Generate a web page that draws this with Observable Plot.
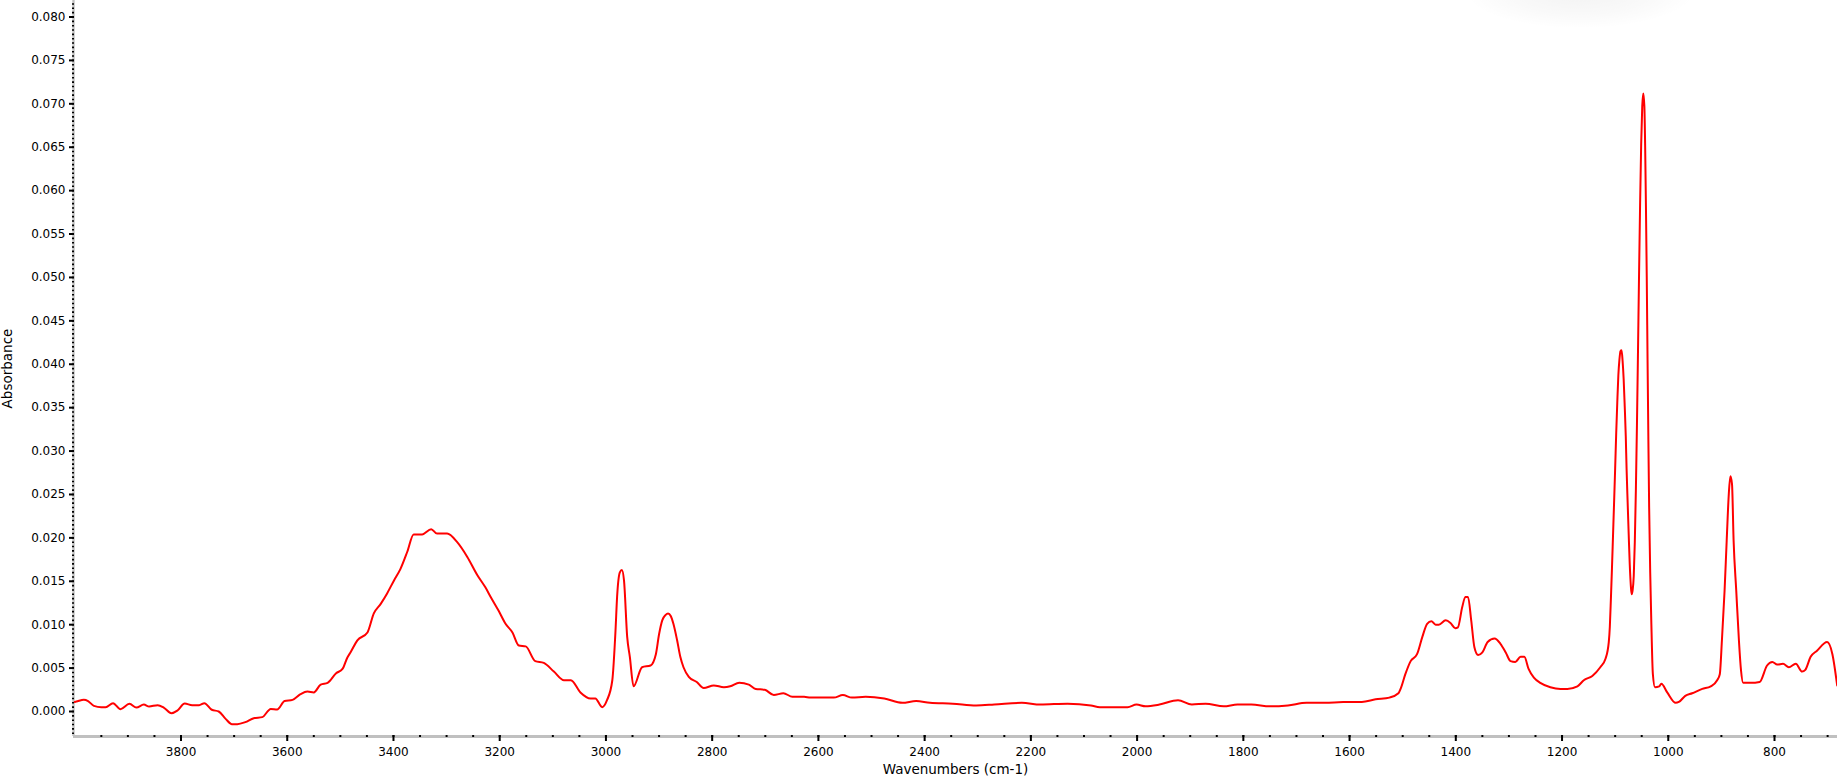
<!DOCTYPE html>
<html>
<head>
<meta charset="utf-8">
<script src="https://cdn.jsdelivr.net/npm/d3@7"></script>
<script src="https://cdn.jsdelivr.net/npm/@observablehq/plot@0.6"></script>
<style>
html, body { margin: 0; padding: 0; background: #fff; overflow: hidden; }
#chart { position: relative; width: 1837px; height: 776px; }
#chart svg { display: block; }
#shadow { position: absolute; left: 1465px; top: -48px; width: 230px; height: 76px; border-radius: 50%;
  background: radial-gradient(ellipse at center, rgba(0,0,0,0.05) 0%, rgba(0,0,0,0.025) 45%, rgba(0,0,0,0) 72%);
  pointer-events: none; }
</style>
</head>
<body>
<div id="chart"><div id="shadow"></div></div>
<script>
// Spectrum: wavenumber (cm-1) and absorbance
const wavenumber = [
  4000, 3995, 3983, 3975, 3964, 3950, 3942, 3928, 3914, 3897, 3884, 3870, 3860, 3844, 3832, 3818, 3807,
  3793, 3779, 3766, 3756, 3742, 3729, 3716, 3704, 3694, 3679, 3663, 3647, 3631, 3619, 3605, 3590, 3575,
  3562, 3550, 3537, 3524, 3508, 3496, 3487, 3481, 3468, 3449, 3437, 3424, 3412, 3399, 3387, 3374, 3362,
  3346, 3329, 3318, 3299, 3280, 3261, 3242, 3227, 3217, 3202, 3189, 3176, 3164, 3151, 3133, 3117, 3098,
  3079, 3066, 3048, 3029, 3020, 3007, 2998, 2988, 2982, 2979, 2974, 2970, 2966, 2960, 2955, 2948, 2932, 2916,
  2906, 2900, 2894, 2888, 2883, 2878, 2873, 2866, 2860, 2854, 2844, 2829, 2816, 2797, 2778, 2766, 2749, 2731, 2718, 2701, 2684, 2666,
  2649, 2627, 2615, 2589, 2571, 2554, 2537, 2511, 2476, 2442, 2416, 2390, 2347, 2303, 2269, 2217, 2182,
  2131, 2087, 2070, 2018, 2001, 1984, 1958, 1923, 1897, 1871, 1837, 1811, 1785, 1750, 1716, 1681, 1646,
  1612, 1577, 1551, 1525, 1508, 1504, 1495, 1485, 1473, 1463, 1454, 1446, 1438, 1432, 1419, 1410, 1401,
  1396, 1388, 1382, 1377, 1371, 1365, 1358, 1350, 1340, 1327, 1316, 1306, 1297, 1288, 1278, 1271, 1263,
  1253, 1241, 1222, 1203, 1190, 1171, 1159, 1143, 1128, 1118, 1112, 1110, 1108, 1106, 1104, 1102, 1100,
  1098, 1096, 1094, 1092, 1090, 1088, 1086, 1084, 1082, 1080, 1078.5, 1076.5, 1074.5, 1072.5, 1070.5,
  1069, 1067, 1065, 1063, 1061, 1059, 1057, 1055, 1053, 1051, 1049, 1047, 1045, 1043.5, 1042, 1040.5,
  1039, 1037.5, 1036, 1034, 1032, 1029, 1025, 1017, 1013, 1002, 986, 980, 968, 955, 936, 920, 908, 903,
  899, 894, 890, 886, 883, 880, 877, 872, 867, 863, 859, 845, 828, 814, 804, 795, 784, 773, 760, 748,
  742, 732, 720, 701, 691, 682
];
const absorbance = [
  0.0011, 0.00118, 0.00134, 0.0012, 0.00065, 0.0005, 0.0005, 0.00096, 0.00027, 0.00088, 0.00046, 0.0008, 0.00058, 0.00073, 0.00042, -0.0002, 0.0001,
  0.00092, 0.00073, 0.00073, 0.00096, 0.0002, 0.0, -0.00085, -0.00146, -0.00146, -0.00123, -0.00077, -0.00065, 0.0003, 0.00023, 0.0012, 0.00134, 0.0020,
  0.0023, 0.0022, 0.0031, 0.0033, 0.0044, 0.0049, 0.0062, 0.0068, 0.0082, 0.0091, 0.0113, 0.0124, 0.0136, 0.0151, 0.0164, 0.0184, 0.0204,
  0.0204, 0.0210, 0.0205, 0.0205, 0.0195, 0.0178, 0.0157, 0.0143, 0.0132, 0.0116, 0.0101, 0.0091, 0.0076, 0.0075, 0.0058, 0.0056, 0.0046,
  0.0036, 0.0036, 0.0022, 0.0015, 0.0015, 0.0005, 0.0013, 0.0036, 0.0093, 0.0132, 0.0160, 0.0163, 0.0151, 0.0086, 0.0063, 0.0029, 0.0051, 0.0053,
  0.0066, 0.0089, 0.0105, 0.0111, 0.0113, 0.0110, 0.0101, 0.0082, 0.0063, 0.0051, 0.0040, 0.0034, 0.0027, 0.0030, 0.0028, 0.0029, 0.0033, 0.0031, 0.0026, 0.0025, 0.0019, 0.0021,
  0.0017, 0.0017, 0.0016, 0.0016, 0.0016, 0.0019, 0.0016, 0.0017, 0.0015, 0.0010, 0.0012, 0.0010, 0.0009, 0.0007, 0.0008, 0.0010, 0.0008,
  0.0009, 0.0007, 0.0005, 0.0005, 0.0008, 0.0006, 0.0008, 0.0013, 0.0008, 0.0009, 0.0006, 0.0008, 0.0008, 0.0006, 0.0007, 0.0010, 0.0010,
  0.0011, 0.0011, 0.0014, 0.0016, 0.0021, 0.0026, 0.0043, 0.0058, 0.0066, 0.0086, 0.0101, 0.0104, 0.0100, 0.0100, 0.0105, 0.0102, 0.0096,
  0.0097, 0.0120, 0.0132, 0.0132, 0.0105, 0.0074, 0.0065, 0.0068, 0.0080, 0.0084, 0.0078, 0.0068, 0.0058, 0.0057, 0.0063, 0.0063, 0.0049,
  0.0039, 0.0033, 0.0028, 0.0026, 0.0026, 0.0029, 0.0036, 0.0041, 0.0051, 0.0061, 0.0080, 0.0098, 0.0130, 0.0165, 0.0203, 0.0241, 0.0280,
  0.0321, 0.0356, 0.0387, 0.0405, 0.0415, 0.0416, 0.0404, 0.0383, 0.0352, 0.0317, 0.0280, 0.0241, 0.0204, 0.0169, 0.0145,
  0.0135, 0.0140, 0.0156, 0.0195, 0.0255, 0.0329, 0.0415, 0.0504, 0.0586, 0.0654, 0.0697, 0.0712, 0.0697, 0.0650, 0.0580, 0.0500,
  0.0405, 0.0315, 0.0235, 0.0160, 0.0105, 0.0043, 0.0028, 0.0029, 0.0032, 0.0022, 0.0010, 0.0011, 0.0018, 0.0021, 0.0026, 0.0029, 0.0036, 0.0043,
  0.0082, 0.0139, 0.0197, 0.0251, 0.0271, 0.0262, 0.0197, 0.0139, 0.0082, 0.0047, 0.0033, 0.0033, 0.0034, 0.0053, 0.0057, 0.0054, 0.0055, 0.0051, 0.0055, 0.0046,
  0.0048, 0.0063, 0.0070, 0.0080, 0.0066, 0.0030
];

// Axis ticks
const xMajorTicks = [3800, 3600, 3400, 3200, 3000, 2800, 2600, 2400, 2200, 2000, 1800, 1600, 1400, 1200, 1000, 800];
const xMinorTicks = d3.range(3950, 680, -50);
const yMajorTicks = d3.range(0, 17).map(i => +(i * 0.005).toFixed(3));
const yMinorTicks = d3.range(-5, 164).map(i => +(i * 0.0005).toFixed(4));

const xDomain = [4002.4, 681.4];
const yDomain = [-0.00288, 0.0819];

const data = wavenumber.map((w, i) => ({w, a: absorbance[i]})).sort((p, q) => p.w - q.w);

const chart = Plot.plot({
  width: 1837,
  height: 776,
  marginLeft: 73,
  marginRight: 0,
  marginTop: 0,
  marginBottom: 40,
  style: {fontFamily: "DejaVu Sans", fontSize: "12px", color: "#000", background: "#fff", overflow: "hidden"},
  x: {domain: xDomain},
  y: {domain: yDomain},
  marks: [
    Plot.ruleX([xDomain[0]], {stroke: "#c0c0c0", strokeWidth: 2.4}),
    Plot.ruleY([yDomain[0]], {stroke: "#c0c0c0", strokeWidth: 3}),
    Plot.axisY(yMinorTicks, {anchor: "left", tickSize: 2, dx: 1, strokeWidth: 1.6, stroke: "#000", tickFormat: () => "", label: null}),
    Plot.axisY(yMajorTicks, {anchor: "left", tickSize: 5, dx: 1, strokeWidth: 2, stroke: "#000", tickPadding: 4, tickFormat: d3.format(".3f"), fontSize: 12, label: null}),
    Plot.axisY([], {anchor: "left", tickSize: 0, label: "Absorbance", labelArrow: "none", labelAnchor: "center", labelOffset: 71, fontSize: 13.5}),
    Plot.axisX(xMinorTicks, {anchor: "bottom", tickSize: 2, dy: -1, strokeWidth: 2, stroke: "#000", tickFormat: () => "", label: null}),
    Plot.axisX(xMajorTicks, {anchor: "bottom", tickSize: 6, dy: -1, strokeWidth: 2, stroke: "#000", tickPadding: 6, tickFormat: d => String(d), fontSize: 12, label: null}),
    Plot.axisX([], {anchor: "bottom", tickSize: 0, label: "Wavenumbers (cm-1)", labelArrow: "none", labelAnchor: "center", labelOffset: 37, fontSize: 13.5}),
    Plot.line(data, {x: "w", y: "a", stroke: "#ff0000", strokeWidth: 2, curve: "monotone-x"})
  ]
});
document.getElementById("chart").prepend(chart);
</script>
</body>
</html>
